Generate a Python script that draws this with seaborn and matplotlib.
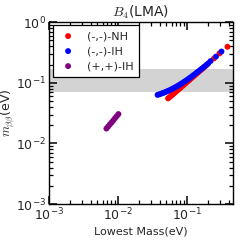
import matplotlib
matplotlib.use("Agg")
import matplotlib.pyplot as plt
from matplotlib.ticker import LogLocator, NullFormatter
import seaborn as sns
import pandas as pd

# ---- data ----
nh_x = [0.053, 0.056, 0.059, 0.062, 0.065, 0.069, 0.073, 0.077, 0.081, 0.086,
        0.091, 0.096, 0.102, 0.108, 0.114, 0.121, 0.128, 0.136, 0.144, 0.153,
        0.162, 0.172, 0.183, 0.195, 0.245, 0.295, 0.385]
nh_y = [0.0553, 0.0582, 0.0612, 0.0642, 0.0673, 0.0713, 0.0754, 0.0795, 0.0836, 0.0887,
        0.0938, 0.0989, 0.1050, 0.1111, 0.1173, 0.1243, 0.1314, 0.1395, 0.1476, 0.1567,
        0.1658, 0.1759, 0.1870, 0.1990, 0.252, 0.305, 0.392]

ih_x = [0.0373, 0.0395, 0.042, 0.0445, 0.047, 0.050, 0.053, 0.056, 0.060, 0.064,
        0.068, 0.073, 0.078, 0.083, 0.089, 0.095, 0.102, 0.109, 0.117, 0.125,
        0.134, 0.143, 0.153, 0.164, 0.176, 0.189, 0.203, 0.219, 0.262, 0.315]
ih_y = [0.0632, 0.0645, 0.0661, 0.0677, 0.0694, 0.0714, 0.0736, 0.0757, 0.0787, 0.0818,
        0.0850, 0.0890, 0.0932, 0.0974, 0.1026, 0.1078, 0.1140, 0.1203, 0.1276, 0.1350,
        0.1434, 0.1518, 0.1613, 0.1718, 0.1832, 0.1958, 0.2093, 0.228, 0.270, 0.327]

pp_x = [0.00676, 0.00716, 0.00759, 0.00804, 0.00851, 0.00902, 0.00955, 0.01009]
pp_y = [0.0176, 0.0190, 0.0206, 0.0222, 0.0240, 0.0261, 0.0282, 0.0305]

labels = ["(-,-)-NH", "(-,-)-IH", "(+,+)-IH"]
colors = ["#ff0000", "#0000ff", "#800080"]
band = (0.0695, 0.166)

sns.set_style("ticks")
plt.rcParams["font.family"] = ["DejaVu Sans"]
plt.rcParams["mathtext.fontset"] = "cm"
plt.rcParams["axes.axisbelow"] = False

fig = plt.figure(figsize=(2.4, 2.43), dpi=100)
ax = fig.add_axes([0.205, 0.160, 0.765, 0.749])

ax.axhspan(band[0], band[1], color="#d3d3d3", lw=0, zorder=0)

frames = [
    pd.DataFrame({"x": nh_x, "y": nh_y}),
    pd.DataFrame({"x": ih_x, "y": ih_y}),
    pd.DataFrame({"x": pp_x, "y": pp_y}),
]
for df, lab, col in zip(frames, labels, colors):
    sns.scatterplot(data=df, x="x", y="y", ax=ax, color=col, s=18,
                    edgecolor="none", linewidth=0, label=lab, zorder=3)

ax.set_xscale("log")
ax.set_yscale("log")
ax.set_xlim(1e-3, 0.46)
ax.set_ylim(1e-3, 1.0)
for axis in (ax.xaxis, ax.yaxis):
    axis.set_major_locator(LogLocator(base=10, numticks=10))
    axis.set_minor_locator(LogLocator(base=10, subs=[2, 3, 4, 5, 6, 7, 8, 9], numticks=40))
    axis.set_minor_formatter(NullFormatter())

for sp in ax.spines.values():
    sp.set_color("black")
    sp.set_linewidth(1.0)

ax.tick_params(axis="both", which="both", labelsize=9, pad=2,
               direction="in", top=True, right=True, bottom=True, left=True,
               color="black")
ax.tick_params(axis="both", which="minor", length=3, width=0.9)
ax.tick_params(axis="both", which="major", length=5.5, width=1.1)
ax.set_xlabel("Lowest Mass(eV)", fontsize=8, labelpad=2)
ax.set_ylabel(r"$m_{\beta\beta}$(eV)", fontsize=9, labelpad=0)
ax.set_title(r"$B_4$(LMA)", fontsize=10, pad=4)

leg = ax.legend(loc="upper left", fontsize=8, frameon=True, fancybox=False,
                borderaxespad=0.3, handlelength=1.8, handletextpad=0.8,
                labelspacing=0.45, borderpad=0.5, scatterpoints=1,
                markerscale=1.0)
leg.get_frame().set_edgecolor("black")
leg.get_frame().set_linewidth(0.9)
leg.get_frame().set_alpha(1)

fig.savefig("out.png", dpi=100)
